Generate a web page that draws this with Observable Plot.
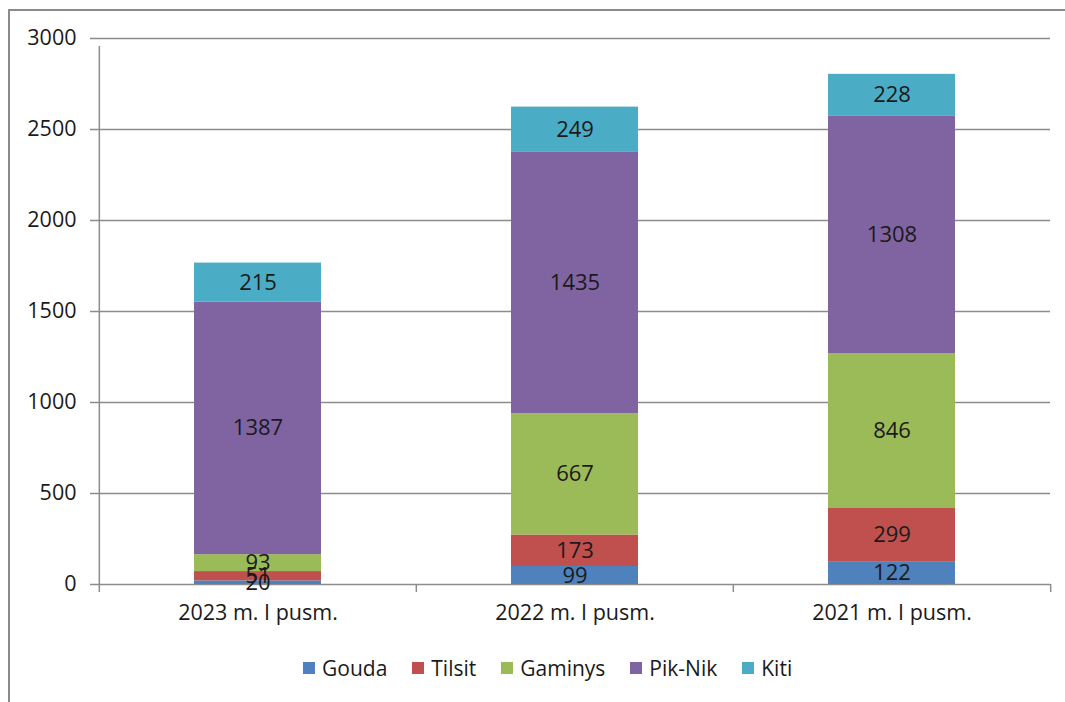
<!DOCTYPE html>
<html>
<head>
<meta charset="utf-8">
<script src="https://cdn.jsdelivr.net/npm/d3@7"></script>
<script src="https://cdn.jsdelivr.net/npm/@observablehq/plot@0.6"></script>
<style>
  html, body { margin: 0; padding: 0; background: #fff; }
  body { width: 1065px; height: 702px; position: relative; overflow: hidden; font-family: "Open Sans", sans-serif; }
  #frame { position: absolute; left: 8px; top: 9px; width: 1200px; height: 800px; border-left: 2px solid #8a8a8a; border-top: 2px solid #8a8a8a; }
  #chart { position: absolute; left: 0; top: 0; }
  #legend { position: absolute; left: 303px; top: 654px; display: flex; align-items: center; font-size: 21px; color: #1a1a1a; }
  .item { display: flex; align-items: center; margin-right: 25px; }
  .sw { width: 12px; height: 12px; margin-right: 7px; }
</style>
</head>
<body>
<div id="frame"></div>
<div id="chart"></div>
<div id="legend"></div>
<script>
const categories = ["2023 m. I pusm.", "2022 m. I pusm.", "2021 m. I pusm."];
const seriesNames = ["Gouda", "Tilsit", "Gaminys", "Pik-Nik", "Kiti"];
const colors = ["#4F81BD", "#C0504D", "#9BBB59", "#8064A2", "#4BACC6"];
const gouda   = [20, 99, 122];
const tilsit  = [51, 173, 299];
const gaminys = [93, 667, 846];
const pikNik  = [1387, 1435, 1308];
const kiti    = [215, 249, 228];
const yTicks  = [0, 500, 1000, 1500, 2000, 2500, 3000];

const seriesValues = [gouda, tilsit, gaminys, pikNik, kiti];
const data = [];
categories.forEach((c, i) => {
  seriesNames.forEach((s, j) => {
    data.push({category: c, series: s, value: seriesValues[j][i]});
  });
});

const W = 1065, H = 630;
const mL = 98, mR = 15, mT = 38, mB = 46;
const step = (W - mL - mR) / categories.length;
const axisColor = "#8c8c8c";

const plot = Plot.plot({
  width: W,
  height: H,
  marginLeft: mL,
  marginRight: mR,
  marginTop: mT,
  marginBottom: mB,
  style: {fontFamily: "Open Sans, sans-serif", fontSize: "21.5px", color: "#1a1a1a", background: "transparent"},
  x: {domain: categories, paddingInner: 0.6, paddingOuter: 0.3, label: null},
  y: {domain: [0, 3000], ticks: yTicks, label: null},
  color: {domain: seriesNames, range: colors},
  marks: [
    Plot.ruleY(yTicks, {y: d => d, stroke: axisColor, strokeWidth: 1.5, insetLeft: -8}),
    Plot.barY(data, {x: "category", y: "value", fill: "series", order: seriesNames}),
    Plot.text(data, Plot.stackY({x: "category", y: "value", z: "series", order: seriesNames, text: d => String(d.value), fontSize: 22, fill: "#1a1a1a"})),
    Plot.ruleX([categories[0]], {x: d => d, dx: -step / 2, y1: 0, y2: 3000, stroke: axisColor, strokeWidth: 1.5, insetBottom: -8}),
    Plot.ruleX(categories, {x: d => d, dx: -step / 2, y1: 0, y2: 0, stroke: axisColor, strokeWidth: 1.5, insetBottom: -8}),
    Plot.ruleX([categories[categories.length - 1]], {x: d => d, dx: step / 2, y1: 0, y2: 0, stroke: axisColor, strokeWidth: 1.5, insetBottom: -8}),
    Plot.axisY({ticks: yTicks, tickSize: 0, tickPadding: 22, fontSize: 21.5, fill: "#1a1a1a", tickFormat: d => String(d)}),
    Plot.axisX({tickSize: 0, tickPadding: 20, fontSize: 21.5, fill: "#1a1a1a"})
  ]
});
document.getElementById("chart").appendChild(plot);

const legend = document.getElementById("legend");
seriesNames.forEach((s, i) => {
  const it = document.createElement("div");
  it.className = "item";
  const sw = document.createElement("span");
  sw.className = "sw";
  sw.style.background = colors[i];
  const t = document.createElement("span");
  t.textContent = s;
  it.appendChild(sw);
  it.appendChild(t);
  legend.appendChild(it);
});
</script>
</body>
</html>
